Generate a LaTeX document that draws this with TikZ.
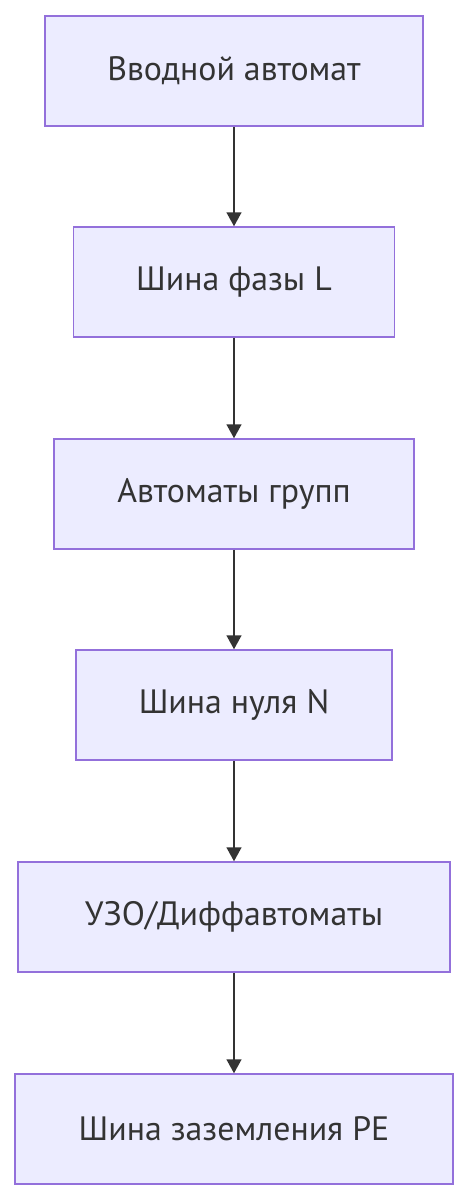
\documentclass[tikz,border=0pt]{standalone}
\usepackage{fontspec}
\setmainfont{PT Sans}
\usetikzlibrary{arrows.meta}
\definecolor{boxfill}{HTML}{ECECFF}
\definecolor{boxline}{HTML}{9370DB}
\definecolor{ink}{HTML}{333333}

\begin{document}
\begin{tikzpicture}[x=1pt, y=-1pt,
    panel/.style={rectangle, draw=boxline, fill=boxfill, line width=1.5pt,
      minimum height=110pt, inner sep=0pt, text=ink,
      font=\fontsize{33.8}{38}\selectfont},
    arrow/.style={-{Triangle[length=14pt, width=15pt]}, line width=1.5pt, ink},
  ]
    \useasboundingbox (0,0) rectangle (469,1200);
    \node[panel, minimum width=378pt] (intro) at (234,71)   {Вводной автомат};
    \node[panel, minimum width=321pt] (phase) at (234,282)  {Шина фазы L};
    \node[panel, minimum width=360pt] (group) at (234,494)  {Автоматы групп};
    \node[panel, minimum width=316pt] (zero)  at (234,705)  {Шина нуля N};
    \node[panel, minimum width=432pt] (rcd)   at (234,917)  {УЗО/Диффавтоматы};
    \node[panel, minimum width=438pt] (earth) at (234,1129) {Шина заземления PE};
    \draw[arrow] (intro) -- (phase);
    \draw[arrow] (phase) -- (group);
    \draw[arrow] (group) -- (zero);
    \draw[arrow] (zero)  -- (rcd);
    \draw[arrow] (rcd)   -- (earth);
  \end{tikzpicture}
\end{document}
